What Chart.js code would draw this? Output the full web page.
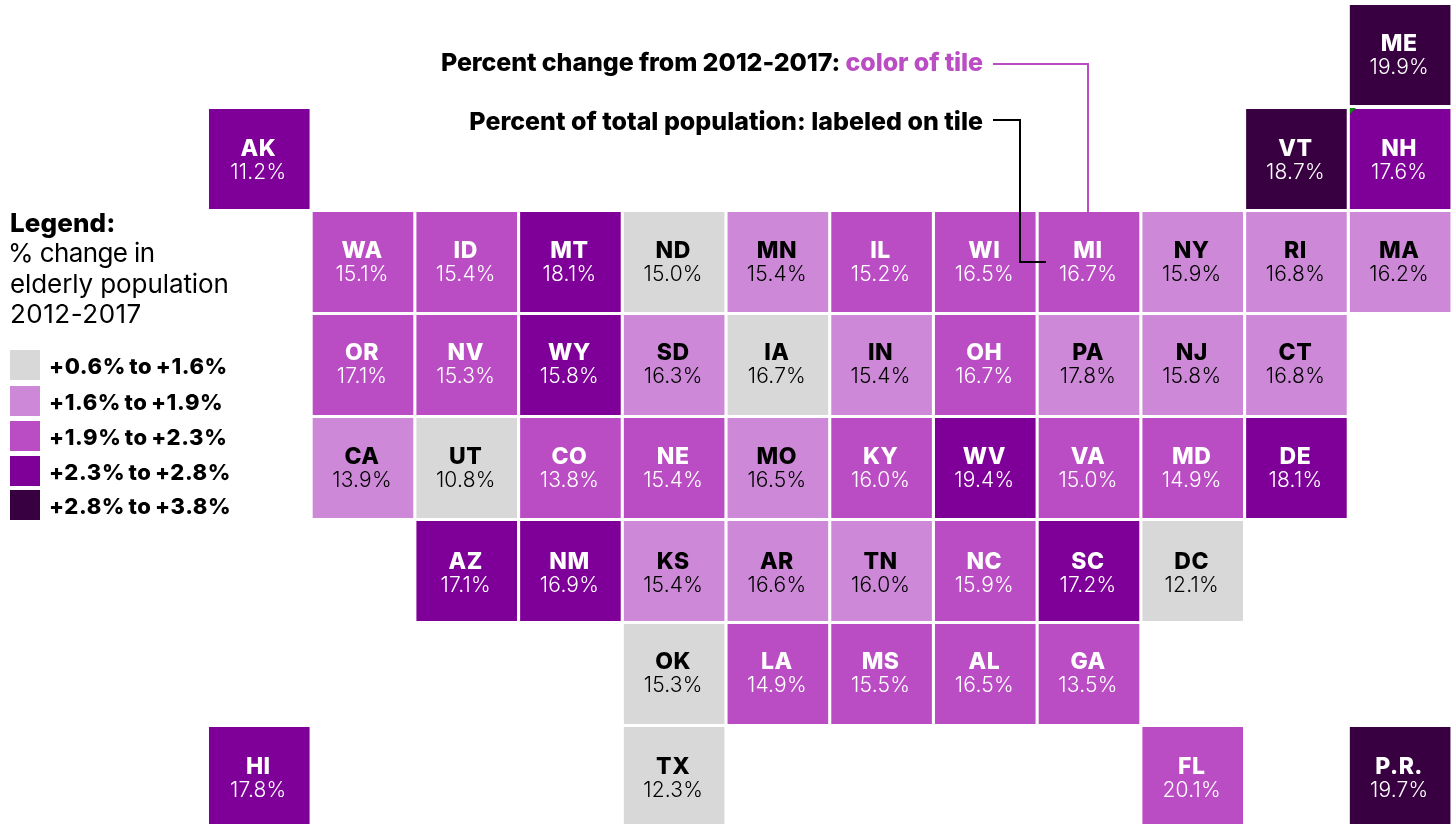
<!DOCTYPE html>
<html>
<head>
<meta charset="utf-8">
<title>Elderly population tile map</title>
<script src="https://cdn.jsdelivr.net/npm/chart.js@4"></script>
<style>
  html, body { margin: 0; padding: 0; background: #fff; }
  body { width: 1452px; height: 824px; overflow: hidden; position: relative; font-family: Inter, sans-serif; color: #000; }
  #map { position: absolute; left: 0; top: 0; }
  .txt { position: absolute; left: 10px; white-space: nowrap; line-height: 30px; font-size: 26px; font-weight: 400; }
  .swatch { position: absolute; left: 10px; width: 30px; height: 30px; }
  .range { position: absolute; left: 49px; white-space: nowrap; font-size: 22px; font-weight: 800; line-height: 30px; letter-spacing: 0.6px; word-spacing: -2px; }
  .note { position: absolute; right: 469px; white-space: nowrap; font-size: 25px; font-weight: 800; line-height: 30px; }
</style>
</head>
<body>
<canvas id="map" width="1452" height="824"></canvas>

<div class="txt" style="top:208px; font-weight:800; letter-spacing:0.1px;">Legend:</div>
<div class="txt" style="left:8px; top:238px; letter-spacing:-0.6px;">% change in</div>
<div class="txt" style="top:269px; letter-spacing:-0.1px;">elderly population</div>
<div class="txt" style="top:299px; letter-spacing:0.5px;">2012-2017</div>
<div id="legendBox"></div>

<div class="note" style="top:47px; letter-spacing:-0.1px;">Percent change from 2012-2017: <span style="color:#bb4dc4">color of tile</span></div>
<div class="note" style="top:106px;">Percent of total population: labeled on tile</div>

<script>
const states = [
  'ME',
  'AK', 'VT', 'NH',
  'WA', 'ID', 'MT', 'ND', 'MN', 'IL', 'WI', 'MI', 'NY', 'RI', 'MA',
  'OR', 'NV', 'WY', 'SD', 'IA', 'IN', 'OH', 'PA', 'NJ', 'CT',
  'CA', 'UT', 'CO', 'NE', 'MO', 'KY', 'WV', 'VA', 'MD', 'DE',
  'AZ', 'NM', 'KS', 'AR', 'TN', 'NC', 'SC', 'DC',
  'OK', 'LA', 'MS', 'AL', 'GA',
  'HI', 'TX', 'FL', 'P.R.'
]
const tileCols = [
  13,
  2, 12, 13,
  3, 4, 5, 6, 7, 8, 9, 10, 11, 12, 13,
  3, 4, 5, 6, 7, 8, 9, 10, 11, 12,
  3, 4, 5, 6, 7, 8, 9, 10, 11, 12,
  4, 5, 6, 7, 8, 9, 10, 11,
  6, 7, 8, 9, 10,
  2, 6, 11, 13
]
// ME sits a hair higher than the rest of the grid in the original
const tileRows = [
  -0.01,
  1, 1, 1,
  2, 2, 2, 2, 2, 2, 2, 2, 2, 2, 2,
  3, 3, 3, 3, 3, 3, 3, 3, 3, 3,
  4, 4, 4, 4, 4, 4, 4, 4, 4, 4,
  5, 5, 5, 5, 5, 5, 5, 5,
  6, 6, 6, 6, 6,
  7, 7, 7, 7
]
// percent of total population, printed on the tile
const populationShare = [
  19.9,
  11.2, 18.7, 17.6,
  15.1, 15.4, 18.1, 15.0, 15.4, 15.2, 16.5, 16.7, 15.9, 16.8, 16.2,
  17.1, 15.3, 15.8, 16.3, 16.7, 15.4, 16.7, 17.8, 15.8, 16.8,
  13.9, 10.8, 13.8, 15.4, 16.5, 16.0, 19.4, 15.0, 14.9, 18.1,
  17.1, 16.9, 15.4, 16.6, 16.0, 15.9, 17.2, 12.1,
  15.3, 14.9, 15.5, 16.5, 13.5,
  17.8, 12.3, 20.1, 19.7
]
// index into bucketLabels
const changeBucket = [
  4,
  3, 4, 3,
  2, 2, 3, 0, 1, 2, 2, 2, 1, 1, 1,
  2, 2, 3, 1, 0, 1, 2, 1, 1, 1,
  1, 0, 2, 2, 1, 2, 3, 2, 2, 3,
  3, 3, 1, 1, 1, 2, 3, 0,
  0, 2, 2, 2, 2,
  3, 0, 2, 4
]
const bucketLabels = ['+0.6% to +1.6%', '+1.6% to +1.9%', '+1.9% to +2.3%', '+2.3% to +2.8%', '+2.8% to +3.8%']
const bucketColors = ['#d8d8d8', '#cd88d8', '#bb4dc4', '#7f0098', '#380040']
const bucketText = ['#000', '#000', '#fff', '#fff', '#fff']
const swatchTops = [350, 386, 421, 456, 490]
// the tile labels are not quite evenly spaced from row to row
const rowTextNudge = [0.5, 0.5, 0, -1, 0, 2, -1, 1]

// legend
var legendHtml = ''
for (var i in bucketLabels) {
  legendHtml += '<div class="swatch" style="top:' + swatchTops[i] + 'px; background:' + bucketColors[i] + '"></div>'
  legendHtml += '<div class="range" style="top:' + (swatchTops[i] + 1) + 'px">' + bucketLabels[i] + '</div>'
}
document.getElementById('legendBox').innerHTML = legendHtml

const columns = []
for (var c = 0; c < 14; c++) columns.push('c' + c)

const tileHalf = 0.4854

const datasets = bucketLabels.map((label, b) => {
  var points = []
  states.forEach((s, i) => {
    if (changeBucket[i] === b) {
      points.push({ x: 'c' + tileCols[i], y: [tileRows[i] - tileHalf, tileRows[i] + tileHalf], state: s, share: populationShare[i], row: Math.round(tileRows[i]) })
    }
  })
  return {
    label: label,
    data: points,
    backgroundColor: bucketColors[b],
    borderWidth: 0,
    barPercentage: 1,
    categoryPercentage: 0.97
  }
})

const tileLabels = {
  id: 'tileLabels',
  afterDatasetsDraw(chart) {
    const ctx = chart.ctx
    const xs = chart.scales.x
    const ys = chart.scales.y
    ctx.save()
    ctx.textAlign = 'center'
    ctx.textBaseline = 'alphabetic'
    chart.data.datasets.forEach((ds, b) => {
      ctx.fillStyle = bucketText[b]
      ds.data.forEach(p => {
        const cx = xs.getPixelForValue(xs.getLabels().indexOf(p.x)) - 1
        const cy = ys.getPixelForValue((p.y[0] + p.y[1]) / 2) + rowTextNudge[p.row]
        ctx.font = '800 23px Inter'
        ctx.letterSpacing = '0.5px'
        ctx.fillText(p.state, cx, cy - 4)
        ctx.font = '300 21px Inter'
        ctx.letterSpacing = '0.2px'
        ctx.fillText(p.share.toFixed(1) + '%', cx, cy + 19)
      })
    })
    ctx.restore()
  }
}

// leader lines and the small green corner on NH
const leaders = {
  id: 'leaders',
  afterDraw(chart) {
    const ctx = chart.ctx
    ctx.save()
    ctx.lineWidth = 2
    ctx.strokeStyle = '#bb4dc4'
    ctx.beginPath()
    ctx.moveTo(993, 64)
    ctx.lineTo(1088, 64)
    ctx.lineTo(1088, 212)
    ctx.stroke()
    ctx.strokeStyle = '#000'
    ctx.beginPath()
    ctx.moveTo(993, 120)
    ctx.lineTo(1020, 120)
    ctx.lineTo(1020, 262)
    ctx.lineTo(1046, 262)
    ctx.stroke()
    ctx.fillStyle = '#0a8a0a'
    ctx.beginPath()
    ctx.moveTo(1350, 108)
    ctx.lineTo(1356, 108)
    ctx.lineTo(1350, 114)
    ctx.fill()
    ctx.restore()
  }
}

const chart = new Chart(document.getElementById('map').getContext('2d'), {
  type: 'bar',
  data: { labels: columns, datasets: datasets },
  options: {
    responsive: false,
    animation: false,
    layout: { padding: 0 },
    datasets: { bar: { grouped: false } },
    plugins: {
      legend: { display: false },
      tooltip: { enabled: false }
    },
    scales: {
      x: { display: false },
      y: { display: false, reverse: true, min: -0.5437, max: 7.4563 }
    }
  },
  plugins: [tileLabels, leaders]
})
</script>
</body>
</html>
